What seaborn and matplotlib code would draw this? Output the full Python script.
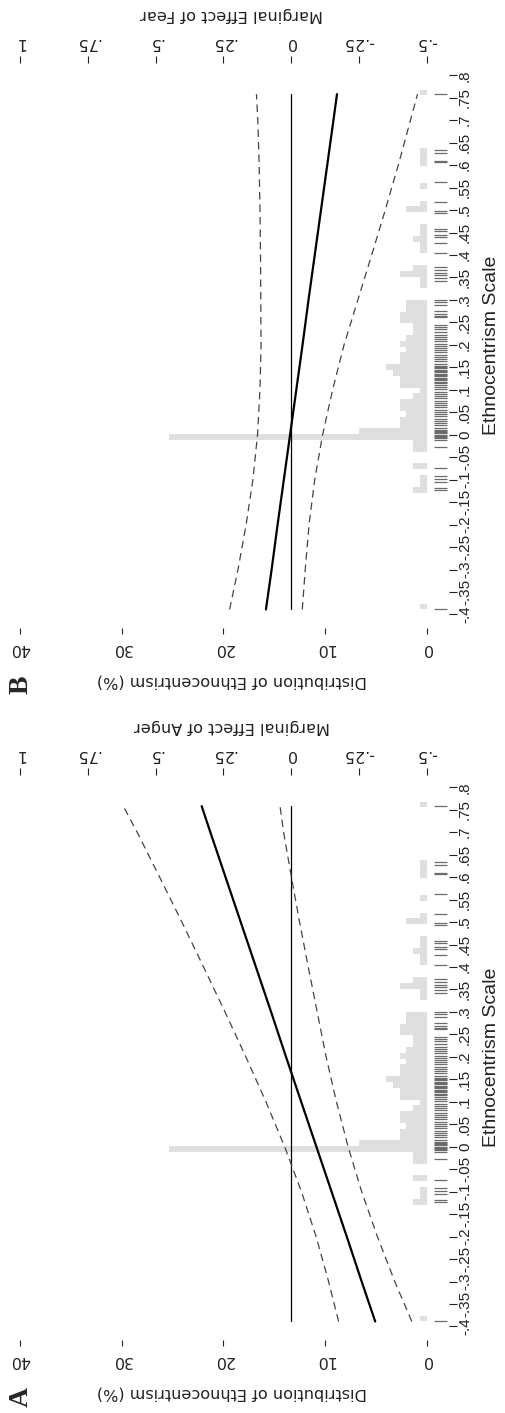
import matplotlib
matplotlib.use('Agg')
import matplotlib.pyplot as plt
import seaborn as sns

# ---- data ----
# ethnocentrism values where the marginal-effect lines were read
ethno_pts = [-0.389, -0.3, -0.2, -0.1, 0.0, 0.1, 0.2, 0.3, 0.4, 0.5, 0.6, 0.7, 0.758]

# panel A: marginal effect of anger with 95% CI
anger_me = [-0.310, -0.260, -0.205, -0.149, -0.093, -0.037, 0.019, 0.074, 0.130, 0.186, 0.242, 0.298, 0.330]
anger_hi = [-0.175, -0.138, -0.092, -0.038, 0.024, 0.093, 0.167, 0.244, 0.323, 0.403, 0.485, 0.568, 0.619]
anger_lo = [-0.445, -0.382, -0.318, -0.260, -0.210, -0.167, -0.129, -0.096, -0.063, -0.031, -0.001, 0.028, 0.041]

# panel B: marginal effect of fear with 95% CI
fear_me = [0.093, 0.072, 0.050, 0.027, 0.004, -0.019, -0.042, -0.064, -0.087, -0.110, -0.133, -0.156, -0.169]
fear_hi = [0.227, 0.196, 0.166, 0.141, 0.124, 0.115, 0.111, 0.112, 0.113, 0.115, 0.118, 0.123, 0.128]
fear_lo = [-0.041, -0.052, -0.066, -0.087, -0.116, -0.153, -0.195, -0.246, -0.297, -0.347, -0.395, -0.440, -0.466]

# distribution of ethnocentrism (%), bin mid-points and heights
bin_lo, bin_hi, bin_width = -0.389, 0.768, 0.013
hist_mid = [-0.3825, -0.1225, -0.1095, -0.0965, -0.0705, -0.0315, -0.0185, -0.0055, 0.0075,
            0.0205, 0.0335, 0.0465, 0.0595, 0.0725, 0.0855, 0.0985, 0.1115, 0.1245, 0.1375,
            0.1505, 0.1635, 0.1765, 0.1895, 0.2025, 0.2155, 0.2285, 0.2415, 0.2545, 0.2675,
            0.2805, 0.2935, 0.3325, 0.3455, 0.3585, 0.3715, 0.4105, 0.4235, 0.4365, 0.4495,
            0.4625, 0.5015, 0.5145, 0.5535, 0.6055, 0.6185, 0.6315, 0.7595]
hist_pct = [0.67, 1.33, 0.67, 0.67, 1.33, 1.33, 1.33, 25.3, 6.67,
            2.67, 2.67, 2.0, 2.67, 2.67, 1.33, 0.67, 2.67, 2.67, 3.33,
            4.0, 2.67, 2.67, 2.0, 2.67, 2.0, 1.33, 1.33, 2.67, 2.67,
            2.0, 2.0, 0.67, 0.67, 2.67, 1.33, 0.67, 0.67, 1.33, 0.67,
            0.67, 2.0, 0.67, 0.67, 0.67, 0.67, 0.67, 0.67]

# rug of observed ethnocentrism values
rug_vals = [-0.389, -0.124, -0.119, -0.106, -0.098, -0.091, -0.074, -0.028,
            -0.011, -0.008, -0.005, -0.002, 0.0, 0.003, 0.006, 0.009, 0.011,
            0.016, 0.021, 0.026, 0.031, 0.036, 0.041, 0.046, 0.051, 0.056, 0.061,
            0.066, 0.071, 0.076, 0.081, 0.086, 0.091, 0.096, 0.101, 0.106, 0.111,
            0.115, 0.118, 0.121, 0.124, 0.127, 0.130, 0.133, 0.136, 0.139, 0.142,
            0.145, 0.148, 0.151, 0.153, 0.158, 0.163, 0.168, 0.173, 0.178, 0.183,
            0.188, 0.193, 0.198, 0.203, 0.208, 0.213, 0.218, 0.223, 0.228, 0.235,
            0.240, 0.245, 0.261, 0.265, 0.269, 0.275, 0.289, 0.295, 0.300,
            0.341, 0.349, 0.356, 0.360, 0.367, 0.373, 0.404, 0.427, 0.440, 0.445,
            0.453, 0.458, 0.494, 0.499, 0.517, 0.562, 0.606, 0.610, 0.627, 0.633, 0.759]

# axis ticks
eth_ticks = [-0.4, -0.35, -0.3, -0.25, -0.2, -0.15, -0.1, -0.05, 0, 0.05, 0.1, 0.15, 0.2,
             0.25, 0.3, 0.35, 0.4, 0.45, 0.5, 0.55, 0.6, 0.65, 0.7, 0.75, 0.8]
eth_labels = ['-.4', '-.35', '-.3', '-.25', '-.2', '-.15', '-.1', '-.05', '0', '.05', '.1', '.15', '.2',
              '.25', '.3', '.35', '.4', '.45', '.5', '.55', '.6', '.65', '.7', '.75', '.8']
dist_ticks = [0, 10, 20, 30, 40]
me_ticks = [-0.5, -0.25, 0, 0.25, 0.5, 0.75, 1]
me_labels = ['-.5', '-.25', '0', '.25', '.5', '.75', '1']

sns.set_theme(style='white')
plt.rcParams['font.family'] = ['DejaVu Sans']

W, H = 505, 1413
fig = plt.figure(figsize=(W / 100, H / 100), dpi=100)

narrow = ['Liberation Sans Narrow', 'Liberation Sans']
ink = '#222222'


def panel(top_px, me, hi, lo, title, letter):
    left_px, right_px, bot_px = 15, 449, top_px + 565
    ax = fig.add_axes([left_px / W, 1 - bot_px / H, (right_px - left_px) / W, (bot_px - top_px) / H])

    # histogram of ethnocentrism (horizontal bars growing to the left)
    sns.histplot(y=hist_mid, weights=hist_pct, binwidth=bin_width, binrange=(bin_lo, bin_hi),
                 color='#dfdfdf', alpha=1, linewidth=0, ax=ax)
    ax.hlines(rug_vals, -0.75, -1.95, colors='#6b6b6b', lw=0.9)

    ax.set_xlim(40.49, -2.19)
    ax.set_ylim(-0.4302, 0.8273)
    for s in ax.spines.values():
        s.set_visible(False)

    ax.set_xticks(dist_ticks, labels=[str(t) for t in dist_ticks])
    ax.tick_params(axis='x', bottom=True, direction='out', length=4.6, width=0.8, color=ink,
                   labelsize=11.5, labelrotation=180, pad=5, labelcolor=ink)
    ax.set_xlabel('Distribution of Ethnocentrism (%)', rotation=180, fontsize=11.6,
                  labelpad=12, color=ink)

    ax.yaxis.tick_right()
    ax.yaxis.set_label_position('right')
    ax.set_yticks(eth_ticks, labels=eth_labels)
    ax.tick_params(axis='y', right=True, direction='out', length=5.5, width=0.8, color=ink,
                   labelsize=11, pad=1, labelcolor=ink)
    for lab in ax.get_yticklabels():
        lab.set_rotation(90)
        lab.set_va('center')
        lab.set_family(narrow)
    ax.set_ylabel('Ethnocentrism Scale', rotation=90, fontsize=14, family=narrow,
                  labelpad=8, color=ink)

    # marginal effect axis on top, same pixel span
    ax2 = ax.twiny()
    ax2.set_xlim(1.0184, -0.5821)
    for s in ax2.spines.values():
        s.set_visible(False)
    ax2.set_xticks(me_ticks, labels=me_labels)
    ax2.tick_params(axis='x', top=True, direction='out', length=5, width=0.8, color=ink,
                    labelsize=11.5, labelrotation=180, pad=4, labelcolor=ink)
    ax2.set_xlabel(title, rotation=180, fontsize=11.6, labelpad=12, color=ink)

    sns.lineplot(x=[0, 0], y=[ethno_pts[0], ethno_pts[-1]], orient='y', color='black', lw=0.9, ax=ax2)
    sns.lineplot(x=hi, y=ethno_pts, orient='y', color='#444444', lw=0.9, linestyle=(0, (6, 4)), ax=ax2)
    sns.lineplot(x=lo, y=ethno_pts, orient='y', color='#444444', lw=0.9, linestyle=(0, (6, 4)), ax=ax2)
    sns.lineplot(x=me, y=ethno_pts, orient='y', color='black', lw=1.6, ax=ax2)
    ax2.set_ylim(-0.4302, 0.8273)

    fig.text(21 / W, 1 - (bot_px + 57) / H, letter, rotation=90, fontsize=20, fontweight='bold',
             family='Liberation Serif', ha='center', va='center')


panel(63, fear_me, fear_hi, fear_lo, 'Marginal Effect of Fear', 'B')
panel(775, anger_me, anger_hi, anger_lo, 'Marginal Effect of Anger', 'A')

fig.savefig('out.png', dpi=100, facecolor='white')
